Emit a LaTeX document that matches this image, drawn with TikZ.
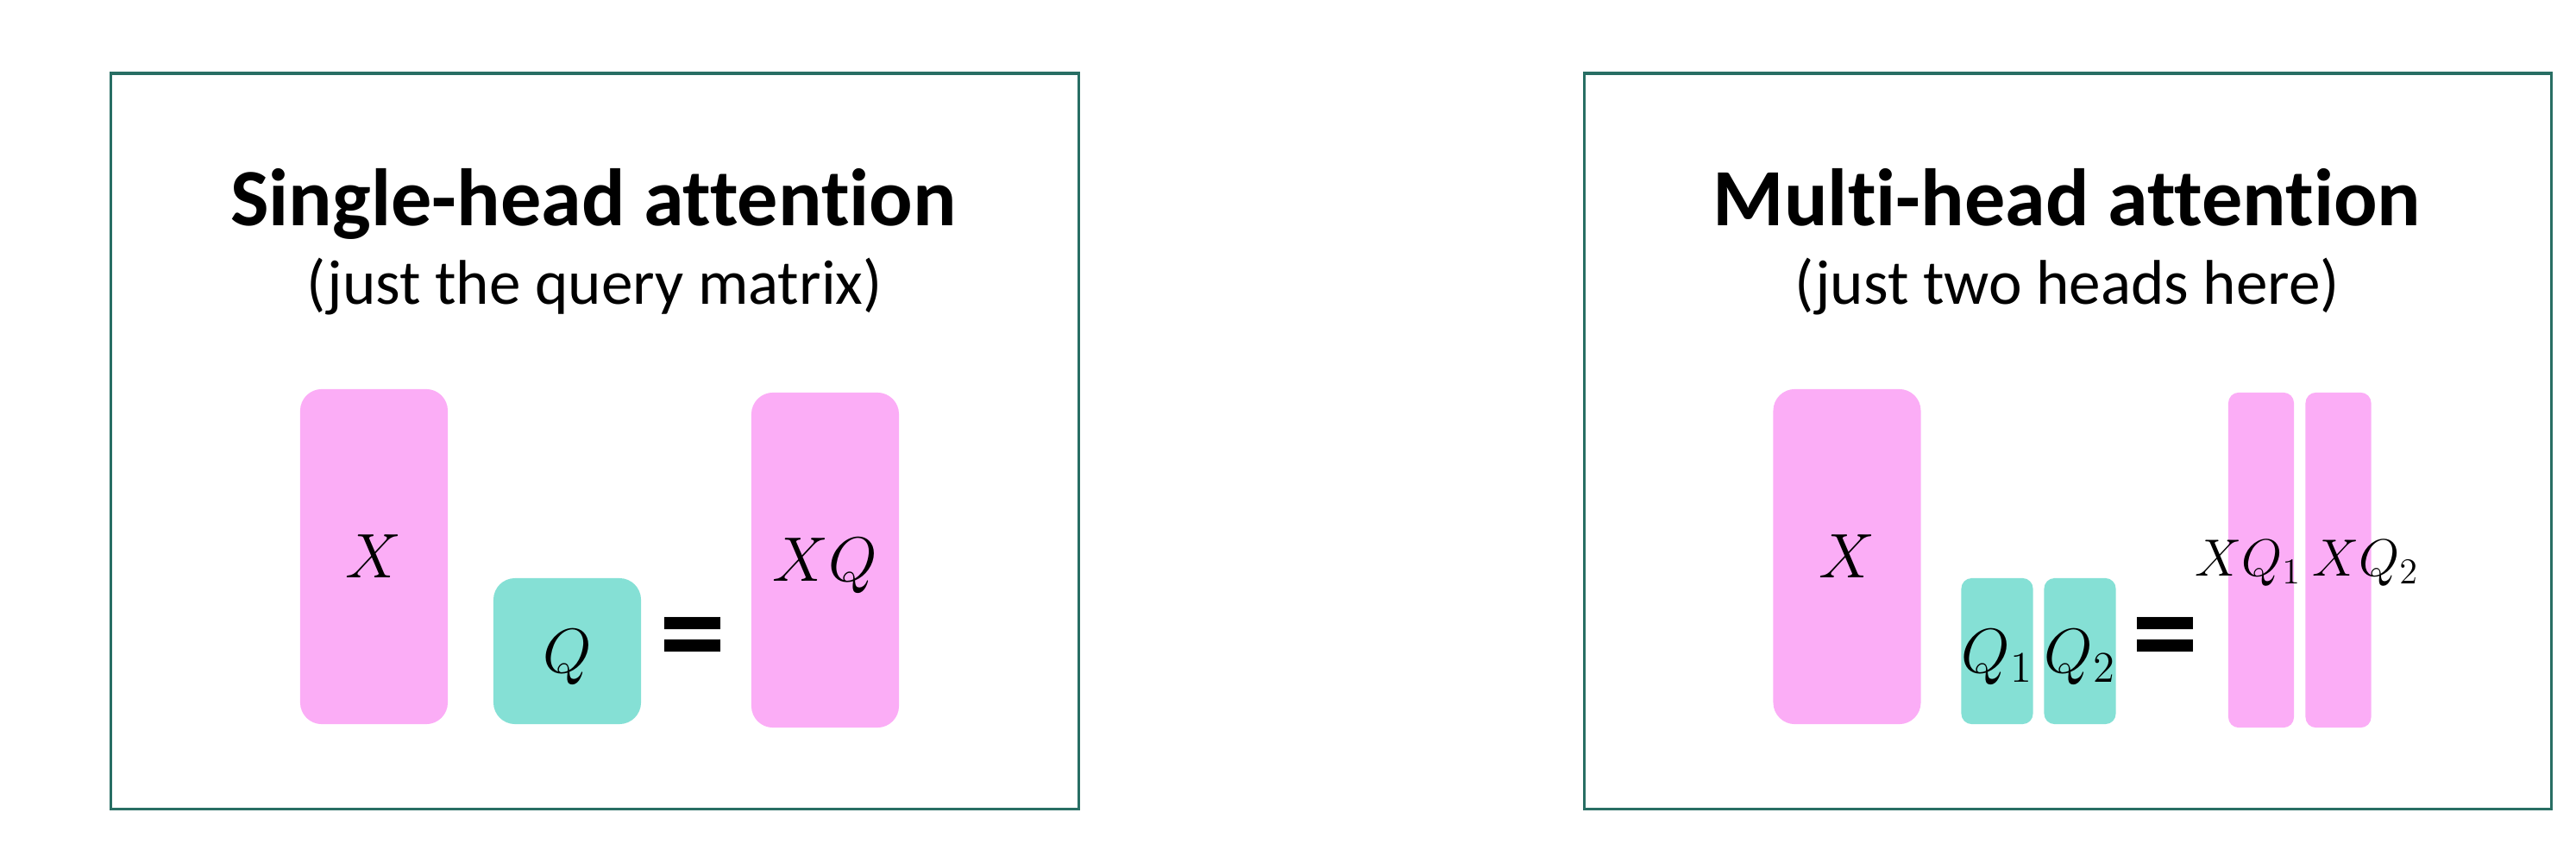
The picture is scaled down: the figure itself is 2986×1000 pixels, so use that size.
\documentclass[tikz,border=0pt]{standalone}
\usepackage{fontspec}
\setmainfont{Carlito}[Ligatures=NoCommon]
\usepackage{xcolor}
\definecolor{framegreen}{RGB}{40,110,100}
\definecolor{matpink}{RGB}{251,173,246}
\definecolor{matteal}{RGB}{133,224,213}

\begin{document}
\begin{tikzpicture}[x=0.01cm, y=-0.01cm,
    panel/.style={draw=framegreen, line width=0.03cm},
    title/.style={anchor=base, font=\fontsize{26.8}{30}\bfseries},
    subtitle/.style={anchor=base, font=\fontsize{20.8}{24}\selectfont},
    mat/.style={inner sep=0pt, text depth=0pt, font=\fontsize{21.5}{25}\selectfont},
    wide/.style={mat, minimum width=1.71cm, rounded corners=0.25cm},
    thin/.style={mat, minimum width=0.76cm, rounded corners=0.12cm},
    tall/.style={minimum height=3.88cm, fill=matpink},
    short/.style={minimum height=1.69cm, fill=matteal},
    eq/.style={font=\fontsize{44}{50}\bfseries},
    headlabel/.style={anchor=base, font=\fontsize{18}{22}\selectfont}]
    \useasboundingbox (0,0) rectangle (2986,1000);

    % single head
    \draw[panel] (128,85) rectangle (1250,937);
    \node[title] (t1) at (688,261) {Single-head attention};
    \node[subtitle] (s1) at (689,352) {(just the query matrix)};
    \node[wide,tall] (x1) at (433.5,645) {$X$};
    \node[wide,short] (q1) at (657.5,754.5) {$Q$};
    \node[eq] (e1) at (803,750) {=};
    \node[wide,tall] (xq1) at (956.5,649) {$XQ$};

    % multi head
    \draw[panel] (1836,85) rectangle (2957,937);
    \node[title] (t2) at (2396,261) {Multi-head attention};
    \node[subtitle] (s2) at (2396,352) {(just two heads here)};
    \node[wide,tall] (x2) at (2141,645) {$X$};
    \node[thin,short] (qa) at (2315,754.5) {$Q_1$};
    \node[thin,short] (qb) at (2411,754.5) {$Q_2$};
    \node[eq] (e2) at (2510,750) {=};
    \node[thin,tall] (xqa) at (2621,649) {};
    \node[thin,tall] (xqb) at (2710.5,649) {};
    \node[headlabel] (la) at (2606,667) {$XQ_1$};
    \node[headlabel] (lb) at (2742,667) {$XQ_2$};
\end{tikzpicture}
\end{document}
